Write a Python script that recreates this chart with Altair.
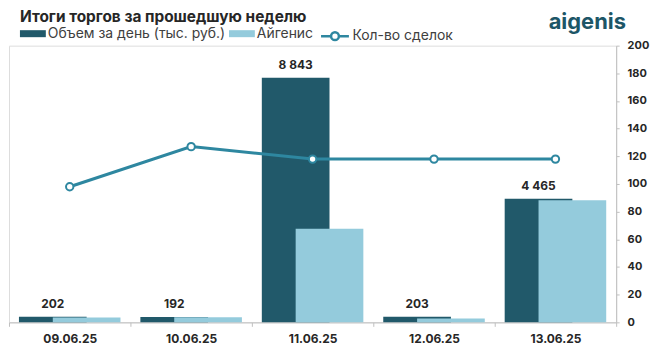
import altair as alt
import pandas as pd

dates = ["09.06.25", "10.06.25", "11.06.25", "12.06.25", "13.06.25"]
volume = [202, 192, 8843, 203, 4465]
aigenis = [175, 185, 3380, 140, 4410]
deals = [98, 127, 118, 118, 118]

TITLE = "Итоги торгов за прошедшую неделю"
S_VOL = "Объем за день (тыс. руб.)"
S_AIG = "Айгенис"
S_CNT = "Кол-во сделок"

bars_df = pd.DataFrame({
    "date": dates * 2,
    "series": [S_VOL] * len(dates) + [S_AIG] * len(dates),
    "value": volume + aigenis,
})
line_df = pd.DataFrame({"date": dates, "series": [S_CNT] * len(dates), "count": deals})
lbl_df = pd.DataFrame({"date": dates, "value": volume})
logo_df = pd.DataFrame({"t": ["aigenis"]})
title_df = pd.DataFrame({"t": [TITLE]})

FONT = "Inter"
DARK = "#21596a"
LIGHT = "#94cbdc"
LINE = "#2e87a0"
TXT = "#262626"
AX = "#bfbfbf"

x = alt.X(
    "date:N", sort=dates, title=None,
    scale=alt.Scale(paddingInner=0, paddingOuter=0),
    axis=alt.Axis(labelFont=FONT, labelFontWeight="bold", labelFontSize=12, labelColor=TXT,
                  labelPadding=7, tickBand="extent", tickSize=4, tickColor=AX,
                  domainColor=AX, labelAngle=0),
)
ybar_scale = alt.Scale(domain=[0, 10000], nice=False)

color = alt.Color(
    "series:N",
    scale=alt.Scale(domain=[S_VOL, S_AIG], range=[DARK, LIGHT]),
    legend=alt.Legend(title=None, orient="none", legendX=11, legendY=-25, direction="horizontal",
                      symbolType="M-1,-0.27H1V0.27H-1Z", symbolSize=676, symbolStrokeWidth=0,
                      labelFont=FONT, labelFontSize=14, labelColor="#404040", labelLimit=400,
                      columnPadding=3, labelOffset=2),
)

dark = alt.Chart(bars_df).transform_filter(alt.datum.series == S_VOL).mark_bar(
    xOffset=-17, width=68).encode(x=x, y=alt.Y("value:Q", scale=ybar_scale, axis=None), color=color)
light = alt.Chart(bars_df).transform_filter(alt.datum.series == S_AIG).mark_bar(
    xOffset=17, width=68).encode(x=x, y=alt.Y("value:Q", scale=ybar_scale, axis=None), color=color)

labels = alt.Chart(lbl_df).transform_calculate(
    label="replace(format(datum.value, ','), ',', ' ')"
).mark_text(xOffset=-17, dy=-13, baseline="middle", font=FONT, fontWeight="bold",
            fontSize=12, color=TXT).encode(
    x=x, y=alt.Y("value:Q", scale=ybar_scale, axis=None), text="label:N")

line = alt.Chart(line_df).mark_line(
    strokeWidth=3,
    point=alt.OverlayMarkDef(filled=True, fill="white", strokeWidth=2, size=55),
).encode(
    x=x,
    y=alt.Y("count:Q", scale=alt.Scale(domain=[0, 200], nice=False),
            axis=alt.Axis(orient="right", values=list(range(0, 201, 20)), title=None, grid=False,
                          labelFont=FONT, labelFontWeight="bold", labelFontSize=11,
                          labelColor=TXT, domainColor=AX, tickColor=AX, tickSize=3,
                          labelPadding=8)),
    stroke=alt.Stroke(
        "series:N", scale=alt.Scale(domain=[S_CNT], range=[LINE]),
        legend=alt.Legend(title=None, orient="none", legendX=312, legendY=-25,
                          symbolType="M-1,0H-0.28A0.28,0.28 0 1,1 0.28,0A0.28,0.28 0 1,1 -0.28,0M0.28,0H1",
                          symbolSize=784, symbolStrokeWidth=2.5, symbolFillColor="white",
                          labelFont=FONT, labelFontSize=14, labelColor="#404040", labelOffset=2)),
)

logo = alt.Chart(logo_df).mark_text(
    font=FONT, fontWeight="bold", fontSize=22, color="#1d5667", align="center", baseline="top"
).encode(text="t:N", x=alt.value(581), y=alt.value(-34))

title = alt.Chart(title_df).mark_text(
    font=FONT, fontWeight="bold", fontSize=15.5, color=TXT, align="left", baseline="top"
).encode(text="t:N", x=alt.value(11), y=alt.value(-36))

chart = alt.layer(dark, light, labels, line, logo, title).resolve_scale(
    y="independent"
).properties(
    width=610, height=278,
    autosize=alt.AutoSizeParams(type="none"),
    padding={"left": 1, "top": 37, "right": 36, "bottom": 30},
).configure_view(stroke=None).configure(background="white")

chart.save("out.html", embed_options={"renderer": "svg", "actions": False})
